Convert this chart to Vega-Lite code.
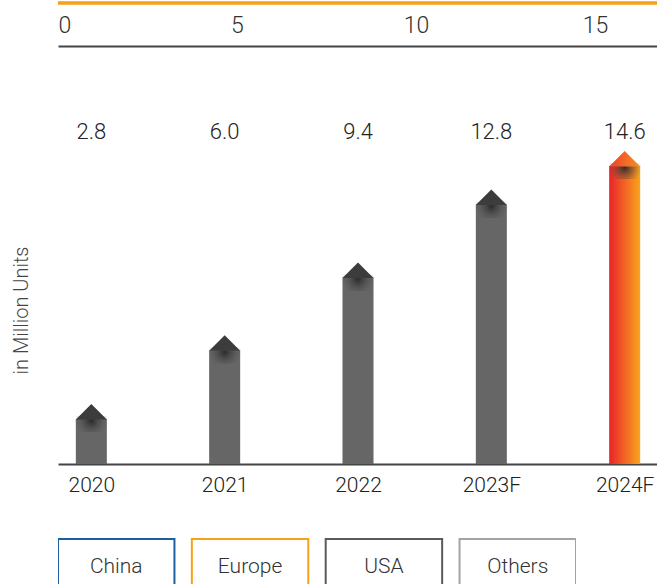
{
  "$schema": "https://vega.github.io/schema/vega-lite/v6.json",
  "background": "white",
  "padding": {"left": 11, "top": 1, "right": 0, "bottom": 0},
  "config": {"view": {"stroke": null}, "font": "Roboto", "axis": {"labelFont": "Roboto", "titleFont": "Roboto"}},
  "data": {"values": [
    {"year": "2020", "value": 2.8},
    {"year": "2021", "value": 6.0},
    {"year": "2022", "value": 9.4},
    {"year": "2023F", "value": 12.8},
    {"year": "2024F", "value": 14.6}
  ]},
  "spacing": 43,
  "vconcat": [
    {
      "width": 600,
      "height": 418,
      "resolve": {"scale": {"x": "independent"}},
      "layer": [
        {
          "encoding": {
            "x": {"field": "year", "type": "ordinal", "sort": null,
              "scale": {"type": "point", "padding": 0.25},
              "axis": {"title": null, "labelAngle": 0, "ticks": false, "domainColor": "#444", "domainWidth": 2, "labelFontSize": 21, "labelFontWeight": 300, "labelColor": "#222", "labelPadding": 10}}
          },
          "layer": [
            {
              "transform": [{"filter": "datum.year != '2024F'"}],
              "mark": {"type": "bar", "width": 31, "yOffset": 15, "y2Offset": 0, "color": "#666666"},
              "encoding": {
                "y": {"field": "value", "type": "quantitative", "scale": {"domain": [0, 19.49], "nice": false},
                  "axis": {"title": "in Million Units", "labels": false, "ticks": false, "domain": false, "grid": false, "titleFontSize": 20, "titleFontWeight": 300, "titleColor": "#444", "titlePadding": 27, "titleY": 264}},
                "y2": {"datum": 0}
              }
            },
            {
              "transform": [{"filter": "datum.year == '2024F'"}],
              "mark": {"type": "bar", "width": 31, "yOffset": 15, "y2Offset": 0,
                "fill": {"gradient": "linear", "x1": 0, "y1": 0, "x2": 1, "y2": 0,
                  "stops": [{"offset": 0, "color": "#e8232a"}, {"offset": 0.55, "color": "#f26a24"}, {"offset": 1, "color": "#f8a51c"}]}},
              "encoding": {"y": {"field": "value", "type": "quantitative"}, "y2": {"datum": 0}}
            },
            {
              "mark": {"type": "bar", "width": 33, "yOffset": 12, "y2Offset": 28,
                "fill": {"gradient": "radial", "x1": 0.5, "y1": 0.4, "x2": 0.5, "y2": 0.4, "r1": 0, "r2": 0.5,
                  "stops": [{"offset": 0, "color": "rgba(35,35,35,0.9)"}, {"offset": 1, "color": "rgba(80,80,80,0)"}]}},
              "encoding": {"y": {"field": "value", "type": "quantitative"}, "y2": {"field": "value"}}
            },
            {
              "transform": [{"filter": "datum.year != '2024F'"}],
              "mark": {"type": "point", "shape": "M-1,1L0,0L1,1Z", "size": 961, "filled": true, "fill": "#3c3c3c", "opacity": 1, "strokeWidth": 0},
              "encoding": {"y": {"field": "value", "type": "quantitative"}}
            },
            {
              "transform": [{"filter": "datum.year == '2024F'"}],
              "mark": {"type": "point", "shape": "M-1,1L0,0L1,1Z", "size": 961, "filled": true, "opacity": 1, "strokeWidth": 0,
                "fill": {"gradient": "linear", "x1": 0, "y1": 0, "x2": 1, "y2": 0,
                  "stops": [{"offset": 0, "color": "#ee3f2b"}, {"offset": 1, "color": "#f6901f"}]}},
              "encoding": {"y": {"field": "value", "type": "quantitative"}}
            },
            {
              "mark": {"type": "text", "fontSize": 22, "fontWeight": 300, "color": "#222", "baseline": "middle"},
              "encoding": {
                "y": {"datum": 15.5},
                "text": {"field": "value", "type": "quantitative", "format": ".1f"}
              }
            }
          ]
        },
        {
          "mark": {"type": "rule", "color": "#f7a11a", "strokeWidth": 2.5},
          "encoding": {"y": {"datum": 21.49}}
        },
        {
          "mark": {"type": "point", "opacity": 0},
          "encoding": {
            "x": {"datum": 0, "type": "quantitative", "scale": {"domain": [0, 16.76], "nice": false},
              "axis": {"orient": "top", "values": [0, 5, 10, 15], "title": null, "ticks": false, "grid": false, "domainColor": "#444", "domainWidth": 2, "labelFontSize": 23, "labelFontWeight": 300, "labelColor": "#333", "labelPadding": 9, "labelFlush": true}}
          }
        }
      ]
    },
    {
      "width": 518,
      "height": 46,
      "data": {"values": [{"name": "China"}, {"name": "Europe"}, {"name": "USA"}, {"name": "Others"}]},
      "encoding": {
        "x": {"field": "name", "type": "nominal", "sort": null, "scale": {"type": "band", "paddingInner": 0.13, "paddingOuter": 0}, "axis": null}
      },
      "layer": [
        {
          "mark": {"type": "rect", "fill": "white", "strokeWidth": 2, "clip": true},
          "encoding": {
            "y": {"datum": 0.98, "type": "quantitative", "scale": {"domain": [0, 1], "nice": false}, "axis": null},
            "y2": {"datum": -0.5},
            "stroke": {"field": "name", "type": "nominal", "scale": {"domain": ["China", "Europe", "USA", "Others"], "range": ["#1b5fa0", "#f7a11a", "#5a5a5a", "#a3a3a3"]}, "legend": null}
          }
        },
        {
          "mark": {"type": "text", "fontSize": 21, "fontWeight": 300, "color": "#333"},
          "encoding": {
            "y": {"datum": 0.36},
            "text": {"field": "name"}
          }
        }
      ]
    }
  ]
}
